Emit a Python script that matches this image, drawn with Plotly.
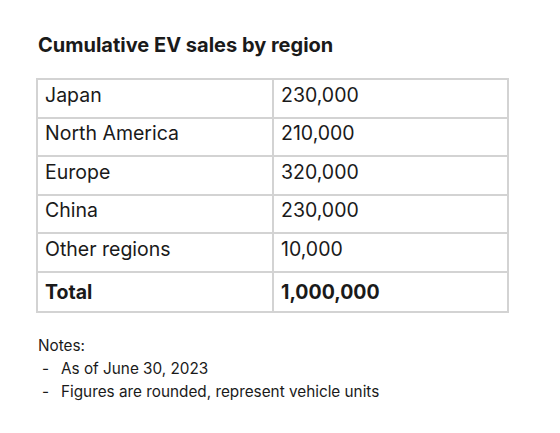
import plotly.graph_objects as go

regions = ["Japan", "North America", "Europe", "China", "Other regions", "<b>Total</b>"]
sales = ["230,000", "210,000", "320,000", "230,000", "10,000", "<b>1,000,000</b>"]
notes = ["As of June 30, 2023", "Figures are rounded, represent vehicle units"]

W, H = 560, 433
OFF = 8  # page body margin
FONT = "Inter, Helvetica, Arial, sans-serif"
INK = "#1a1a1a"

def px(x):
    return (x - OFF) / W

def py(y):
    return 1 - (y - OFF) / H

cell_style = dict(
    height=38.6,
    align="left",
    fill_color="white",
    line=dict(color="#d3d3d3", width=2),
    font=dict(family=FONT, size=19.5, color=INK),
)

fig = go.Figure()
# first row goes in the header so no empty header band shows
fig.add_trace(go.Table(
    domain=dict(x=[px(37), px(508)], y=[py(340), py(79)]),
    columnwidth=[236, 235],
    header=dict(values=[regions[0], sales[0]], **cell_style),
    cells=dict(values=[regions[1:], sales[1:]], **cell_style),
))

fig.add_annotation(
    text="<b>Cumulative EV sales by region</b>", x=px(36), y=py(45),
    xref="paper", yref="paper", xanchor="left", yanchor="middle", showarrow=False,
    font=dict(family=FONT, size=20, color=INK),
)
fig.add_annotation(
    text="Notes:", x=px(36), y=py(345),
    xref="paper", yref="paper", xanchor="left", yanchor="middle", showarrow=False,
    font=dict(family=FONT, size=15.3, color=INK),
)
for i, n in enumerate(notes):
    y = py(368 + 23 * i)
    fig.add_annotation(text="-", x=px(40), y=y, xref="paper", yref="paper",
                       xanchor="left", yanchor="middle", showarrow=False,
                       font=dict(family=FONT, size=15.3, color=INK))
    fig.add_annotation(text=n, x=px(59), y=y, xref="paper", yref="paper",
                       xanchor="left", yanchor="middle", showarrow=False,
                       font=dict(family=FONT, size=15.3, color=INK))

fig.update_layout(
    width=W, height=H,
    margin=dict(l=0, r=0, t=0, b=0),
    paper_bgcolor="white", plot_bgcolor="white",
)
fig.write_html("out.html")
